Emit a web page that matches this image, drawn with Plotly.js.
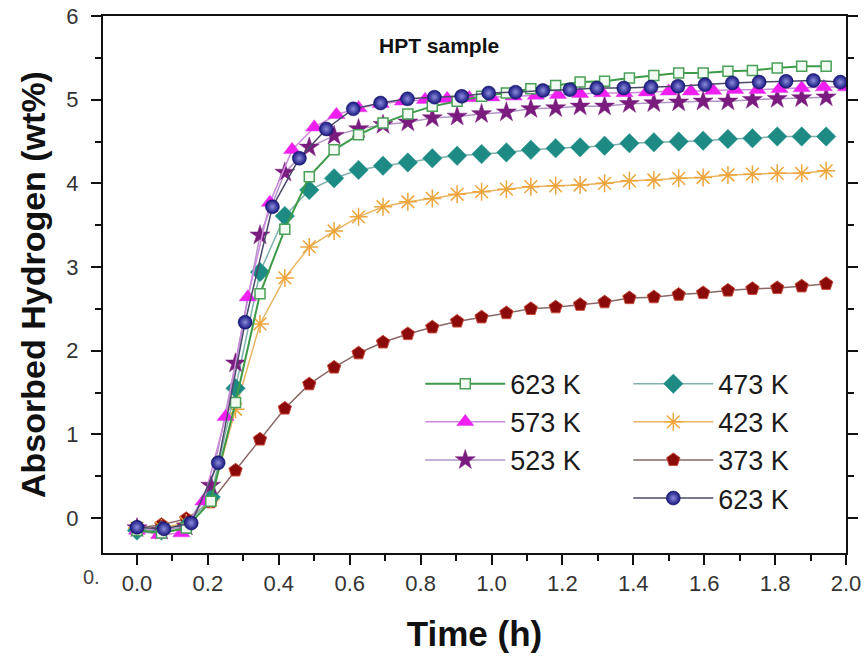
<!DOCTYPE html>
<html>
<head>
<meta charset="utf-8">
<script src="https://cdn.plot.ly/plotly-3.0.1.min.js"></script>
<style>html,body{margin:0;padding:0;background:#fff;}#chart{width:867px;height:656px;}</style>
</head>
<body>
<div id="chart"></div>
<script>
// time grids (h)
var tMain = [0, 0.069, 0.139, 0.208, 0.278, 0.347, 0.417, 0.486, 0.556, 0.625, 0.694, 0.764, 0.833, 0.903, 0.972, 1.042, 1.111, 1.181, 1.25, 1.319, 1.389, 1.458, 1.528, 1.597, 1.667, 1.736, 1.806, 1.875, 1.944];
var tTri = [0, 0.0625, 0.125, 0.1875, 0.25, 0.3125, 0.375, 0.4375, 0.5, 0.5625, 0.625, 0.6875, 0.75, 0.8125, 0.875, 0.9375, 1.0, 1.0625, 1.125, 1.1875, 1.25, 1.3125, 1.375, 1.4375, 1.5, 1.5625, 1.625, 1.6875, 1.75, 1.8125, 1.875, 1.9375, 2.0];
var tBlue = [0, 0.076, 0.153, 0.229, 0.305, 0.382, 0.458, 0.534, 0.610, 0.687, 0.763, 0.839, 0.916, 0.992, 1.068, 1.145, 1.221, 1.297, 1.373, 1.450, 1.526, 1.602, 1.679, 1.755, 1.831, 1.908, 1.984];

// absorbed hydrogen (wt%)
var h623sq = [-0.15, -0.18, -0.12, 0.20, 1.38, 2.68, 3.45, 4.08, 4.40, 4.58, 4.72, 4.83, 4.92, 4.98, 5.04, 5.08, 5.13, 5.17, 5.21, 5.22, 5.26, 5.29, 5.32, 5.32, 5.34, 5.35, 5.38, 5.40, 5.40];
var h573 = [-0.15, -0.20, -0.18, 0.20, 1.21, 2.64, 3.77, 4.40, 4.67, 4.82, 4.90, 4.95, 4.98, 5.00, 5.01, 5.02, 5.03, 5.04, 5.05, 5.06, 5.07, 5.08, 5.08, 5.09, 5.10, 5.10, 5.11, 5.12, 5.12, 5.13, 5.14, 5.15, 5.15];
var h523 = [-0.12, -0.15, -0.10, 0.39, 1.85, 3.38, 4.13, 4.43, 4.57, 4.65, 4.70, 4.73, 4.78, 4.80, 4.83, 4.85, 4.89, 4.90, 4.92, 4.92, 4.95, 4.96, 4.97, 4.98, 4.98, 5.00, 5.01, 5.02, 5.03];
var h473 = [-0.15, -0.15, -0.10, 0.25, 1.55, 2.94, 3.61, 3.92, 4.06, 4.16, 4.21, 4.25, 4.30, 4.33, 4.35, 4.37, 4.40, 4.42, 4.43, 4.45, 4.48, 4.49, 4.50, 4.51, 4.53, 4.54, 4.56, 4.56, 4.56];
var h423 = [-0.12, -0.12, -0.06, 0.22, 1.30, 2.32, 2.87, 3.24, 3.43, 3.60, 3.72, 3.78, 3.82, 3.87, 3.90, 3.93, 3.96, 3.97, 3.98, 4.00, 4.03, 4.04, 4.06, 4.07, 4.10, 4.11, 4.12, 4.12, 4.15];
var h373 = [-0.12, -0.08, -0.01, 0.19, 0.57, 0.94, 1.31, 1.60, 1.80, 1.97, 2.10, 2.20, 2.28, 2.35, 2.40, 2.45, 2.50, 2.52, 2.55, 2.58, 2.63, 2.64, 2.67, 2.69, 2.72, 2.74, 2.75, 2.77, 2.80];
var h623b = [-0.11, -0.13, -0.06, 0.66, 2.34, 3.72, 4.30, 4.65, 4.89, 4.96, 5.01, 5.03, 5.04, 5.08, 5.09, 5.11, 5.12, 5.14, 5.14, 5.15, 5.16, 5.18, 5.20, 5.21, 5.22, 5.23, 5.21];

var seriesNames = ['373 K', '423 K', '473 K', '523 K', '573 K', '623 K', '623 K'];
var yTicks = [0, 1, 2, 3, 4, 5, 6];
var xTicks = [0, 0.2, 0.4, 0.6, 0.8, 1.0, 1.2, 1.4, 1.6, 1.8, 2.0];

var FONT = 'Arial, "Liberation Sans", sans-serif';

var traces = [
  {x: tMain, y: h373, name: seriesNames[0], legend: 'legend2', legendrank: 3,
   mode: 'lines+markers', line: {color: '#8a6868', width: 1.5},
   marker: {symbol: 'pentagon', size: 14, color: '#8b0a0a', line: {color: '#c84a3a', width: 1}}},
  {x: tMain, y: h423, name: seriesNames[1], legend: 'legend2', legendrank: 2,
   mode: 'lines+markers', line: {color: '#e8b460', width: 1.5},
   marker: {symbol: 'asterisk-open', size: 15, color: '#eea53e', line: {color: '#eea53e', width: 1.5}}},
  {x: tMain, y: h473, name: seriesNames[2], legend: 'legend2', legendrank: 1,
   mode: 'lines+markers', line: {color: '#7fb0ac', width: 1.5},
   marker: {symbol: 'diamond', size: 15, color: '#1d8a84', line: {color: '#2a9a92', width: 0.5}}},
  {x: tMain, y: h523, name: seriesNames[3], legend: 'legend', legendrank: 3,
   mode: 'lines+markers', line: {color: '#b295c6', width: 1.5},
   marker: {symbol: 'star', size: 15, color: '#7a1c7e', line: {color: '#7a1c7e', width: 0.5}}},
  {x: tTri, y: h573, name: seriesNames[4], legend: 'legend', legendrank: 2,
   mode: 'lines+markers', line: {color: '#cc88dc', width: 1.5},
   marker: {symbol: 'triangle-up', size: 15, color: '#f01ef0', line: {color: '#e040e8', width: 0.5}}},
  {x: tMain, y: h623sq, name: seriesNames[5], legend: 'legend', legendrank: 1,
   mode: 'lines+markers', line: {color: '#3c9a48', width: 2},
   marker: {symbol: 'square', size: 10, color: '#f2fbf2', line: {color: '#4aa058', width: 1.5}}},
  {x: tBlue, y: h623b, name: seriesNames[6], legend: 'legend2', legendrank: 4,
   mode: 'lines+markers', line: {color: '#4a4a68', width: 1.5},
   marker: {symbol: 'circle', size: 14, color: '#14147e', gradient: {type: 'radial', color: '#8c8cdc'},
            line: {color: '#10105a', width: 0.5}}}
];

var legendBase = {
  bgcolor: 'rgba(0,0,0,0)', borderwidth: 0,
  font: {family: FONT, size: 27, color: '#1a1a1a'},
  xanchor: 'left', yanchor: 'top', itemwidth: 80, traceorder: 'normal'
};

var layout = {
  width: 867, height: 656,
  margin: {l: 103, r: 21, t: 16, b: 103, pad: 0},
  paper_bgcolor: '#fff', plot_bgcolor: '#fff',
  font: {family: FONT, color: '#222'},
  showlegend: true,
  legend: Object.assign({}, legendBase, {x: 0.427, y: 0.36}),
  legend2: Object.assign({}, legendBase, {x: 0.707, y: 0.36}),
  xaxis: {
    range: [-0.0959, 2.0], tickvals: xTicks, ticktext: xTicks.map(function(v){return v.toFixed(1);}),
    ticks: 'outside', ticklen: 10, tickwidth: 2, tickcolor: '#111',
    minor: {dtick: 0.1, tick0: 0, ticks: 'outside', ticklen: 6, tickwidth: 2, tickcolor: '#111'},
    showline: true, linecolor: '#111', linewidth: 2, mirror: true,
    showgrid: false, zeroline: false,
    tickfont: {family: FONT, size: 22, color: '#333'},
    title: {text: '<b>Time (h)</b>', font: {family: FONT, size: 35, color: '#111'}, standoff: 26}
  },
  yaxis: {
    range: [-0.418, 6.0], tickvals: yTicks,
    ticks: 'outside', ticklen: 10, tickwidth: 2, tickcolor: '#111',
    minor: {dtick: 0.5, tick0: 0, ticks: 'outside', ticklen: 6, tickwidth: 2, tickcolor: '#111'},
    showline: true, linecolor: '#111', linewidth: 2, mirror: 'ticks',
    showgrid: false, zeroline: false,
    ticklabelstandoff: 8,
    tickfont: {family: FONT, size: 22, color: '#333'},
    title: {text: '<b>Absorbed Hydrogen (wt%)</b>', font: {family: FONT, size: 34, color: '#111'}, standoff: 10}
  },
  annotations: [
    {text: '<b>HPT sample</b>', xref: 'paper', yref: 'paper', x: 0.452, y: 0.945,
     xanchor: 'center', yanchor: 'middle', showarrow: false,
     font: {family: FONT, size: 21, color: '#111'}},
    {text: '0.', xref: 'paper', yref: 'paper', x: -0.016, y: -0.045,
     xanchor: 'center', yanchor: 'middle', showarrow: false,
     font: {family: FONT, size: 20, color: '#444'}}
  ]
};

Plotly.newPlot('chart', traces, layout, {displayModeBar: false, staticPlot: true});
</script>
</body>
</html>
